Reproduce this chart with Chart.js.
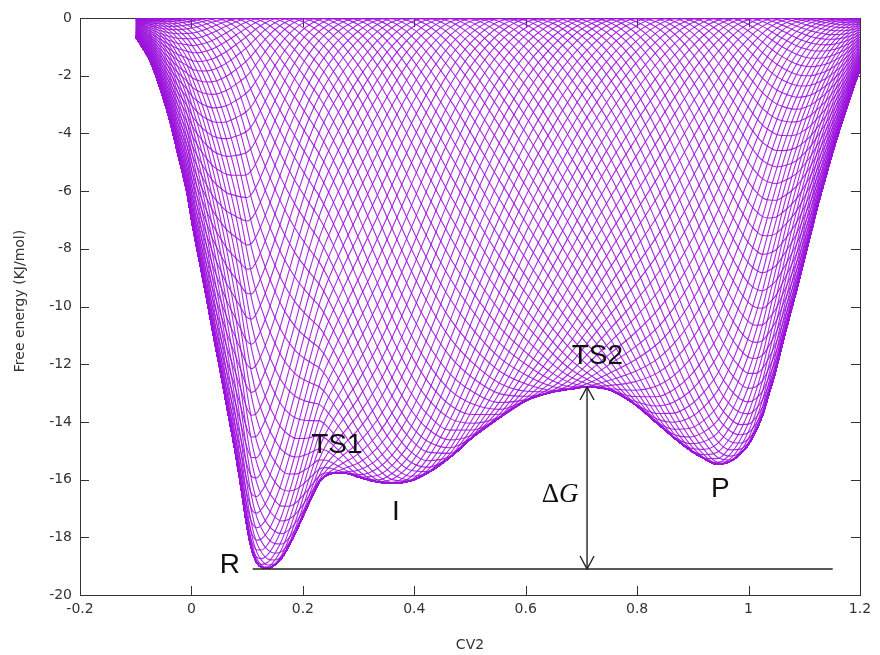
<!DOCTYPE html>
<html>
<head>
<meta charset="utf-8">
<script src="https://cdn.jsdelivr.net/npm/chart.js@4.4.1/dist/chart.umd.min.js"></script>
<style>
html,body{margin:0;padding:0;background:#fff;}
#wrap{width:880px;height:655px;position:relative;}
</style>
</head>
<body>
<div id="wrap"><canvas id="c" width="880" height="655"></canvas></div>
<script>
// ---- data ----
// collective variable grid and final free-energy profile (lower envelope)
const cv = [-0.100,-0.093,-0.075,-0.057,-0.039,-0.025,-0.008,0.002,0.015,0.028,0.040,0.053,0.065,0.078,0.089,0.099,0.108,0.117,0.126,0.137,0.150,0.162,0.175,0.189,0.203,0.216,0.230,0.242,0.254,0.272,0.302,0.333,0.362,0.392,0.423,0.464,0.505,0.554,0.602,0.649,0.680,0.710,0.752,0.793,0.836,0.865,0.895,0.919,0.944,0.967,0.985,1.000,1.012,1.025,1.037,1.050,1.062,1.075,1.088,1.100,1.113,1.125,1.138,1.150,1.163,1.176,1.188,1.200];
const freeEnergy = [-0.66,-0.87,-1.46,-2.39,-3.54,-4.66,-6.07,-7.20,-8.50,-9.80,-11.06,-12.36,-13.63,-14.98,-16.27,-17.55,-18.42,-18.87,-19.04,-19.08,-18.95,-18.72,-18.30,-17.76,-17.15,-16.60,-16.08,-15.86,-15.78,-15.76,-15.92,-16.08,-16.13,-16.05,-15.78,-15.23,-14.53,-13.84,-13.25,-12.96,-12.86,-12.79,-12.90,-13.35,-14.05,-14.53,-14.98,-15.26,-15.47,-15.37,-15.12,-14.78,-14.36,-13.77,-13.01,-12.14,-11.20,-10.24,-9.30,-8.36,-7.39,-6.45,-5.55,-4.72,-3.89,-3.12,-2.43,-1.80];
// positions of the filling front of each intermediate (partially filled) profile
const fillFronts = [-0.1,-0.0825,-0.065,-0.0475,-0.03,-0.0125,0.005,0.0225,0.04,0.0575,0.075,0.0925,0.11,0.1275,0.145,0.1625,0.18,0.1975,0.215,0.2325,0.25,0.2675,0.285,0.3025,0.32,0.3375,0.355,0.3725,0.39,0.4075,0.425,0.4425,0.46,0.4775,0.495,0.5125,0.53,0.5475,0.565,0.5825,0.6,0.6175,0.635,0.6525,0.67,0.6875,0.705,0.7225,0.74,0.7575,0.775,0.7925,0.81,0.8275,0.845,0.8625,0.88,0.8975,0.915,0.9325,0.95,0.9675,0.985,1.0025,1.02,1.0375,1.055,1.0725,1.09,1.1075,1.125,1.1425,1.16,1.1775,1.195,1.2125,1.23,1.2475,1.265,1.2825,1.3,1.3175,1.335,1.3525,1.37,1.3875,1.405,1.4225,1.44,1.4575,1.475,1.4925,1.51,1.5275,1.545,1.5625,1.58,1.5975,1.615,1.6325,1.65,1.6675,1.685,1.7025,1.72];
const frontWidth = 0.55;
// tick values
const xTicks = [-0.2,0,0.2,0.4,0.6,0.8,1,1.2];
const yTicks = [0,-2,-4,-6,-8,-10,-12,-14,-16,-18,-20];
// annotations
const labelText = ['R','TS1','I','TS2','P'];
const labelX = [0.0688,0.261,0.367,0.7285,0.9495];
const labelY = [-19.25,-15.09,-17.41,-12.0,-16.61];
const deltaGX = 0.6616, deltaGY = -16.79;
const baselineX = [0.11,1.151];
const baselineY = [-19.1,-19.1];
const arrowX = [0.7101,0.7101];
const arrowY = [-19.1,-12.79];

// ---- build datasets ----
function smooth(t){ t = Math.max(0, Math.min(1, t)); return t*t*(3-2*t); }
const purple = 'rgba(155,20,220,0.9)';
const datasets = [];
fillFronts.forEach(p => {
  datasets.push({
    data: cv.map((x,i)=>({x:x, y: freeEnergy[i]*smooth((p - x)/frontWidth)})),
    borderColor: purple, borderWidth: 1.1, pointRadius: 0, order: 2
  });
  const q = p - frontWidth;
  datasets.push({
    data: cv.map((x,i)=>({x:x, y: freeEnergy[i]*smooth((x - q)/frontWidth)})),
    borderColor: purple, borderWidth: 1.1, pointRadius: 0, order: 2
  });
});
datasets.push({
  data: baselineX.map((x,i)=>({x:x,y:baselineY[i]})),
  borderColor:'#222', borderWidth:1.4, pointRadius:0, order:0, cubicInterpolationMode:'default'
});
datasets.push({
  data: arrowX.map((x,i)=>({x:x,y:arrowY[i]})),
  borderColor:'#222', borderWidth:1.4, pointRadius:0, order:0, cubicInterpolationMode:'default'
});

const frame = {
  id:'frame',
  beforeDatasetsDraw(chart){
    const {ctx, chartArea:a, scales:{x,y}} = chart;
    ctx.save();
    ctx.strokeStyle = '#333';
    ctx.lineWidth = 1;
    ctx.strokeRect(Math.round(a.left)+0.5, Math.round(a.top)+0.5, Math.round(a.right-a.left), Math.round(a.bottom-a.top));
    ctx.beginPath();
    yTicks.forEach(v=>{
      const py = Math.round(y.getPixelForValue(v))+0.5;
      ctx.moveTo(a.left, py); ctx.lineTo(a.left+9, py);
      ctx.moveTo(a.right, py); ctx.lineTo(a.right-9, py);
    });
    xTicks.forEach(v=>{
      const px = Math.round(x.getPixelForValue(v))+0.5;
      ctx.moveTo(px, a.bottom); ctx.lineTo(px, a.bottom-9);
      ctx.moveTo(px, a.top); ctx.lineTo(px, a.top+9);
    });
    ctx.stroke();
    ctx.restore();
  },
  afterDatasetsDraw(chart){
    const {ctx, scales:{x,y}} = chart;
    ctx.save();
    // arrow heads
    ctx.strokeStyle = '#222'; ctx.lineWidth = 1.4;
    const ax = x.getPixelForValue(arrowX[0]);
    const yb = y.getPixelForValue(arrowY[0]);
    const yt = y.getPixelForValue(arrowY[1]);
    ctx.beginPath();
    ctx.moveTo(ax-7, yt+13); ctx.lineTo(ax, yt); ctx.lineTo(ax+7, yt+13);
    ctx.moveTo(ax-7, yb-13); ctx.lineTo(ax, yb); ctx.lineTo(ax+7, yb-13);
    ctx.stroke();
    // labels
    ctx.fillStyle = '#111';
    ctx.textAlign = 'center'; ctx.textBaseline = 'alphabetic';
    ctx.font = '28px "Liberation Sans", Arial, sans-serif';
    labelText.forEach((t,i)=>{
      ctx.fillText(t, x.getPixelForValue(labelX[i]), y.getPixelForValue(labelY[i]));
    });
    // Delta G
    const gx = x.getPixelForValue(deltaGX), gy = y.getPixelForValue(deltaGY);
    ctx.font = '27px "Liberation Serif", "DejaVu Serif", serif';
    ctx.textAlign = 'right';
    ctx.fillText('\u0394', gx-1, gy);
    ctx.font = 'italic 27px "Liberation Serif", "DejaVu Serif", serif';
    ctx.textAlign = 'left';
    ctx.fillText('G', gx-1, gy);
    // axis titles
    ctx.fillStyle = '#333';
    ctx.font = '14px "DejaVu Sans", sans-serif';
    ctx.textAlign = 'center'; ctx.textBaseline = 'middle';
    ctx.fillText('CV2', 470, 645);
    ctx.translate(20, 301);
    ctx.rotate(-Math.PI/2);
    ctx.fillText('Free energy (KJ/mol)', 0, 0);
    ctx.restore();
  }
};

new Chart(document.getElementById('c'), {
  type: 'line',
  data: { datasets },
  options: {
    responsive: false,
    devicePixelRatio: 1,
    animation: false,
    events: [],
    parsing: false,
    normalized: true,
    layout: { padding: { top: 18, right: 20, left: 0, bottom: 0 } },
    elements: { line: { tension: 0, cubicInterpolationMode: 'monotone' } },
    plugins: { legend: { display: false }, tooltip: { enabled: false } },
    scales: {
      x: {
        type: 'linear', min: -0.2, max: 1.2,
        afterFit(s){ s.height = 60; },
        afterBuildTicks(s){ s.ticks = xTicks.map(v=>({value:v})); },
        grid: { display: false, drawTicks: false },
        border: { display: false },
        ticks: { padding: 6, color: '#333', font: { family: 'DejaVu Sans', size: 14 },
          callback: v => String(Math.round(v*10)/10) }
      },
      y: {
        type: 'linear', min: -20, max: 0,
        afterFit(s){ s.width = 80; },
        afterBuildTicks(s){ s.ticks = yTicks.map(v=>({value:v})); },
        grid: { display: false, drawTicks: false },
        border: { display: false },
        ticks: { padding: 8, color: '#333', font: { family: 'DejaVu Sans', size: 14 },
          callback: v => String(v) }
      }
    }
  },
  plugins: [frame]
});
</script>
</body>
</html>
